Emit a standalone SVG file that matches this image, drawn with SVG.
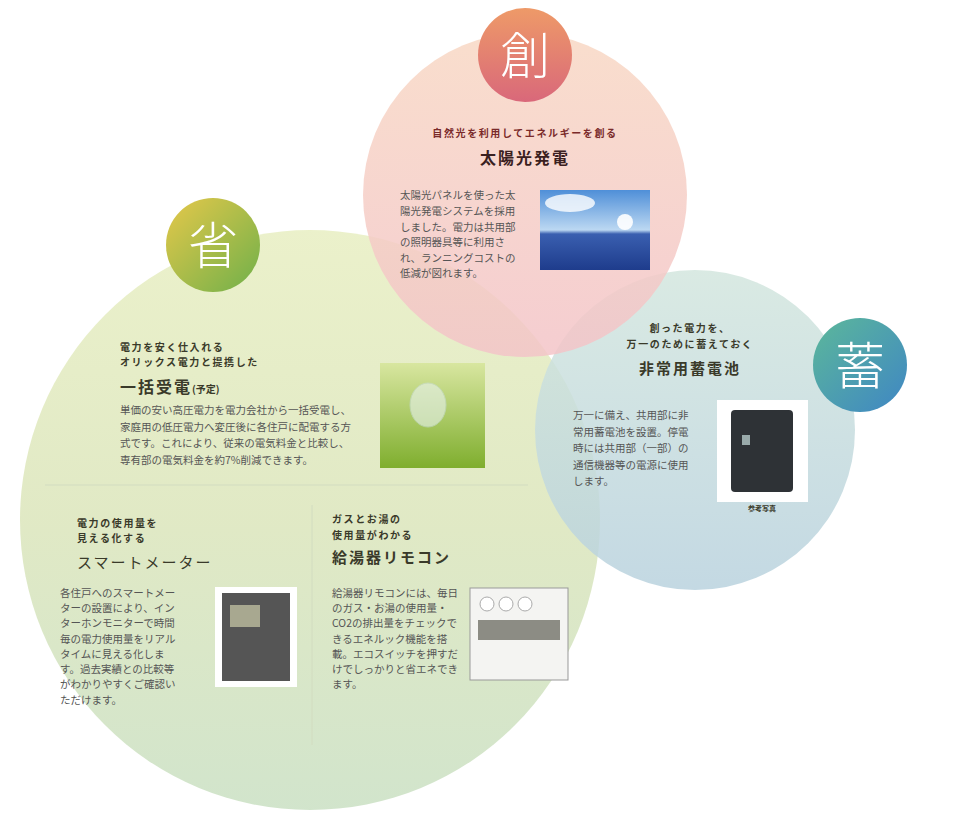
<svg xmlns="http://www.w3.org/2000/svg" width="970" height="823" viewBox="0 0 970 823">
<defs>
<linearGradient id="gG" x1="0" y1="0" x2="0" y2="1"><stop offset="0" stop-color="#eaf0c8"/><stop offset="0.5" stop-color="#dfe8c2"/><stop offset="1" stop-color="#cfe3c9"/></linearGradient>
<linearGradient id="gP" x1="0" y1="0" x2="0" y2="1"><stop offset="0" stop-color="#f8d8c4"/><stop offset="1" stop-color="#f3c4c8"/></linearGradient>
<linearGradient id="gB" x1="0" y1="0" x2="0" y2="1"><stop offset="0" stop-color="#d3e6de"/><stop offset="1" stop-color="#b9d2de"/></linearGradient>
<linearGradient id="bP" x1="0" y1="0" x2="0" y2="1"><stop offset="0" stop-color="#ee9a68"/><stop offset="1" stop-color="#d9687a"/></linearGradient>
<linearGradient id="bG" x1="0" y1="0" x2="1" y2="1"><stop offset="0" stop-color="#e6c84a"/><stop offset="1" stop-color="#6fb04a"/></linearGradient>
<linearGradient id="bB" x1="0" y1="0" x2="1" y2="1"><stop offset="0" stop-color="#5cb89a"/><stop offset="1" stop-color="#3f86c4"/></linearGradient>
<linearGradient id="sky" x1="0" y1="0" x2="0" y2="1"><stop offset="0" stop-color="#4f8fd8"/><stop offset="0.5" stop-color="#bcd8f2"/><stop offset="0.55" stop-color="#3a5fb0"/><stop offset="1" stop-color="#1e3c8c"/></linearGradient>
<linearGradient id="leaf" x1="0" y1="0" x2="0" y2="1"><stop offset="0" stop-color="#d8e6a0"/><stop offset="1" stop-color="#7fae2e"/></linearGradient>
<style>
.h{font-family:"Noto Sans CJK JP","Noto Sans",sans-serif;font-weight:bold;fill:#3a3a2a}
.s{font-size:10px;letter-spacing:1.6px}
.t{letter-spacing:2px}
.b{font-family:"Noto Sans CJK JP","Noto Sans",sans-serif;font-size:10.5px;fill:#555}
.badge{font-family:"Noto Sans CJK JP",sans-serif;font-size:50px;fill:#fff;font-weight:300}
</style>
</defs>
<rect width="970" height="823" fill="#fff"/>
<g id="circles">
<circle cx="310" cy="520" r="290" fill="url(#gG)" opacity="0.95"/>
<circle cx="695" cy="430" r="160" fill="url(#gB)" opacity="0.85"/>
<circle cx="525" cy="195" r="162" fill="url(#gP)" opacity="0.85"/>
</g>
<g id="badges">
<circle cx="525" cy="55" r="47" fill="url(#bP)"/><text x="525" y="74" text-anchor="middle" class="badge">創</text>
<circle cx="213" cy="245" r="47" fill="url(#bG)"/><text x="213" y="264" text-anchor="middle" class="badge">省</text>
<circle cx="860" cy="365" r="47" fill="url(#bB)"/><text x="860" y="384" text-anchor="middle" class="badge">蓄</text>
</g>
<g id="solar">
<text x="525" y="137" text-anchor="middle" class="h s" style="fill:#7a2a2a">自然光を利用してエネルギーを創る</text>
<text x="525" y="164" text-anchor="middle" class="h t" font-size="16" style="fill:#3a2020">太陽光発電</text>
<g class="b"><text x="400" y="199">太陽光パネルを使った太</text><text x="400" y="215">陽光発電システムを採用</text><text x="400" y="231">しました。電力は共用部</text><text x="400" y="246">の照明器具等に利用さ</text><text x="400" y="262">れ、ランニングコストの</text><text x="400" y="277">低減が図れます。</text></g>
<rect x="540" y="190" width="110" height="80" fill="url(#sky)"/>
<ellipse cx="570" cy="203" rx="25" ry="9" fill="#fff" opacity="0.8"/><circle cx="625" cy="222" r="8" fill="#fff" opacity="0.9"/>
</g>
<g id="bulk">
<text x="120" y="351" class="h s">電力を安く仕入れる</text>
<text x="120" y="366" class="h s">オリックス電力と提携した</text>
<text x="120" y="393" class="h t" font-size="16">一括受電<tspan font-size="10" letter-spacing="0">(予定)</tspan></text>
<g class="b"><text x="120" y="414">単価の安い高圧電力を電力会社から一括受電し、</text><text x="120" y="431">家庭用の低圧電力へ変圧後に各住戸に配電する方</text><text x="120" y="447">式です。これにより、従来の電気料金と比較し、</text><text x="120" y="464">専有部の電気料金を約7%削減できます。</text></g>
<rect x="380" y="363" width="105" height="105" fill="url(#leaf)"/>
<ellipse cx="428" cy="405" rx="18" ry="22" fill="#e8f2f0" opacity="0.6" stroke="#c8dcd8"/>
</g>
<g id="dividers" stroke="#d2dcc0" stroke-width="1">
<line x1="45" y1="485" x2="528" y2="485"/>
<line x1="312" y1="505" x2="312" y2="745"/>
</g>
<g id="meter">
<text x="77" y="527" class="h s">電力の使用量を</text>
<text x="77" y="542" class="h s">見える化する</text>
<text x="77" y="568" class="h t" font-size="15" style="font-weight:normal">スマートメーター</text>
<g class="b"><text x="60" y="597">各住戸へのスマートメー</text><text x="60" y="612">ターの設置により、イン</text><text x="60" y="627">ターホンモニターで時間</text><text x="60" y="643">毎の電力使用量をリアル</text><text x="60" y="658">タイムに見える化しま</text><text x="60" y="673">す。過去実績との比較等</text><text x="60" y="688">がわかりやすくご確認い</text><text x="60" y="704">ただけます。</text></g>
<rect x="215" y="587" width="82" height="100" fill="#fff"/>
<rect x="222" y="593" width="68" height="88" fill="#555"/><rect x="230" y="605" width="30" height="22" fill="#a8a890"/>
</g>
<g id="remote">
<text x="332" y="523" class="h s">ガスとお湯の</text>
<text x="332" y="539" class="h s">使用量がわかる</text>
<text x="332" y="563" class="h t" font-size="15">給湯器リモコン</text>
<g class="b"><text x="332" y="597">給湯器リモコンには、毎日</text><text x="332" y="612">のガス・お湯の使用量・</text><text x="332" y="627">CO2の排出量をチェックで</text><text x="332" y="643">きるエネルック機能を搭</text><text x="332" y="658">載。エコスイッチを押すだ</text><text x="332" y="673">けでしっかりと省エネでき</text><text x="332" y="688">ます。</text></g>
<rect x="470" y="588" width="98" height="92" fill="#f4f4f2" stroke="#999"/>
<rect x="478" y="620" width="82" height="20" fill="#8c8c84"/>
<circle cx="487" cy="604" r="7" fill="#fff" stroke="#aaa"/><circle cx="506" cy="604" r="7" fill="#fff" stroke="#aaa"/><circle cx="525" cy="604" r="7" fill="#fff" stroke="#aaa"/>
</g>
<g id="battery">
<text x="690" y="332" text-anchor="middle" class="h s">創った電力を、</text>
<text x="690" y="348" text-anchor="middle" class="h s">万一のために蓄えておく</text>
<text x="690" y="374" text-anchor="middle" class="h t" font-size="15">非常用蓄電池</text>
<g class="b"><text x="573" y="419">万一に備え、共用部に非</text><text x="573" y="436">常用蓄電池を設置。停電</text><text x="573" y="452">時には共用部（一部）の</text><text x="573" y="469">通信機器等の電源に使用</text><text x="573" y="485">します。</text></g>
<rect x="717" y="400" width="91" height="102" fill="#fff"/>
<rect x="731" y="410" width="62" height="82" rx="4" fill="#2e3236"/><rect x="742" y="435" width="8" height="10" fill="#9aa"/>
<text x="762" y="511" text-anchor="middle" class="h" font-size="7">参考写真</text>
</g>
</svg>
